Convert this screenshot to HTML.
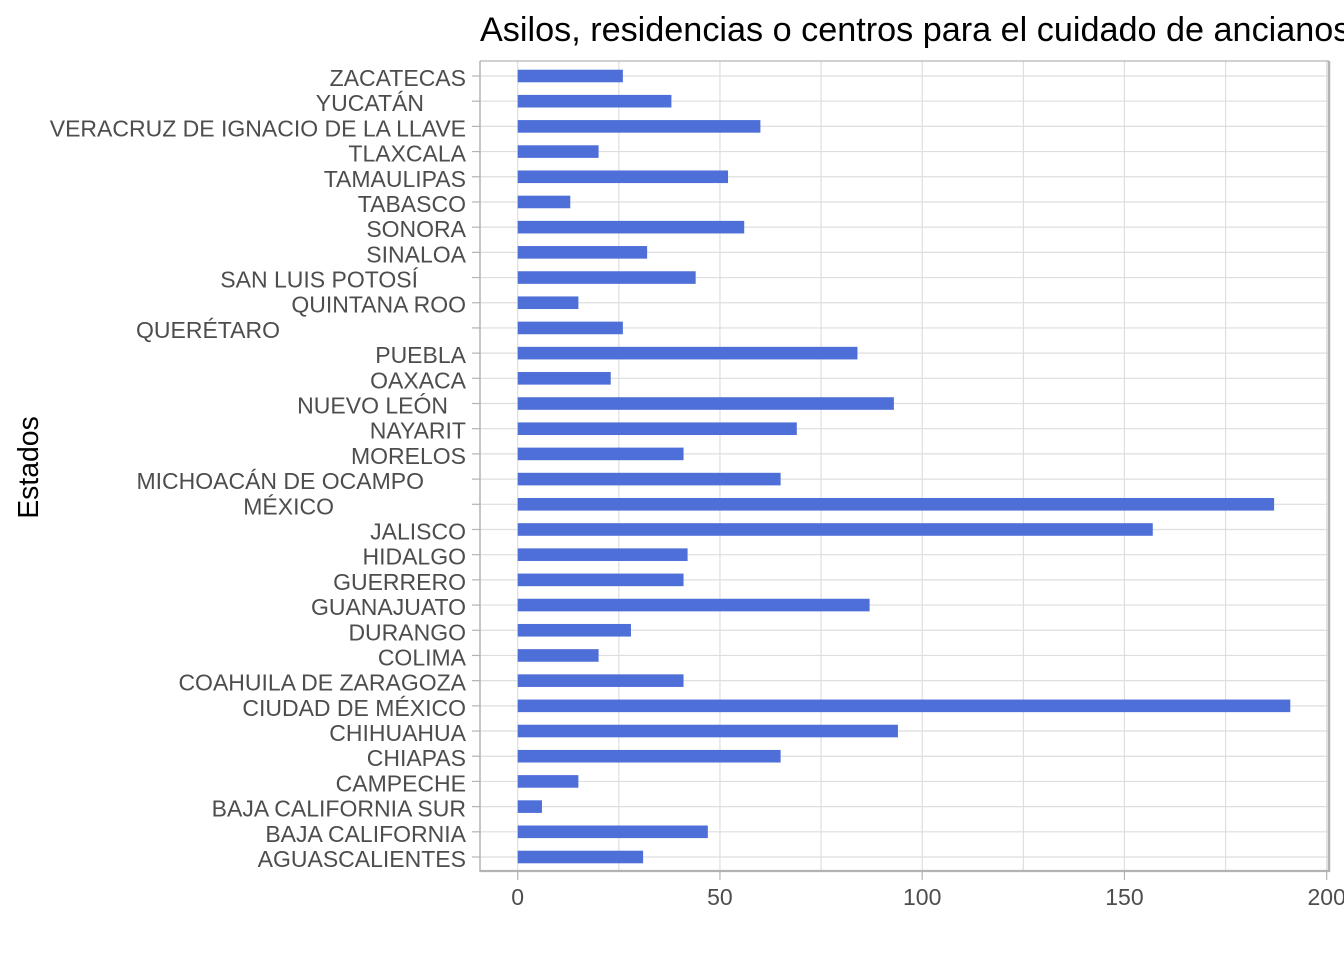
<!DOCTYPE html>
<html lang="es">
<head>
<meta charset="utf-8">
<title>Asilos, residencias o centros para el cuidado de ancianos</title>
<style>
html,body{margin:0;padding:0;background:#fff;width:1344px;height:960px;overflow:hidden}
svg{display:block;font-family:"Liberation Sans",Arial,sans-serif}
</style>
</head>
<body>
<svg id="chart" width="1344" height="960" viewBox="0 0 1344 960" xmlns="http://www.w3.org/2000/svg">
<text x="480" y="41" font-size="34.2" fill="#000">Asilos, residencias o centros para el cuidado de ancianos</text>
<text transform="translate(38,467.5) rotate(-90)" text-anchor="middle" font-size="28.4" fill="#000">Estados</text>
</svg>
<script>
const categories = ["AGUASCALIENTES","BAJA CALIFORNIA","BAJA CALIFORNIA SUR","CAMPECHE","CHIAPAS","CHIHUAHUA","CIUDAD DE MÉXICO","COAHUILA DE ZARAGOZA","COLIMA","DURANGO","GUANAJUATO","GUERRERO","HIDALGO","JALISCO","MÉXICO","MICHOACÁN DE OCAMPO","MORELOS","NAYARIT","NUEVO LEÓN","OAXACA","PUEBLA","QUERÉTARO","QUINTANA ROO","SAN LUIS POTOSÍ","SINALOA","SONORA","TABASCO","TAMAULIPAS","TLAXCALA","VERACRUZ DE IGNACIO DE LA LLAVE","YUCATÁN","ZACATECAS"];
const values = [31,47,6,15,65,94,191,41,20,28,87,41,42,157,187,65,41,69,93,23,84,26,15,44,32,56,13,52,20,60,38,26];
const xTickLabels = [0,50,100,150,200];
const xMinorTicks = [25,75,125,175];

const svg = document.getElementById('chart');
const NS = 'http://www.w3.org/2000/svg';
const panel = {left:480, right:1329, top:61, bottom:871};
const xScale = v => 517.7 + v * 4.045;
const yScale = i => 857 - i * (781 / (categories.length - 1));
// Labels with accented letters sit further left in the reference.
const labelShift = {"YUCATÁN":42,"SAN LUIS POTOSÍ":48,"QUERÉTARO":186,"NUEVO LEÓN":18,"MICHOACÁN DE OCAMPO":42,"MÉXICO":132};

function make(tag, attrs, parent){
  const el = document.createElementNS(NS, tag);
  for (const k in attrs) el.setAttribute(k, attrs[k]);
  (parent || svg).appendChild(el);
  return el;
}

const grid = make('g', {});


xMinorTicks.concat(xTickLabels).forEach(t => {
  const line = make('line', {x1:xScale(t), x2:xScale(t), y1:panel.top, y2:panel.bottom, stroke:'#dedede', 'stroke-width':1.2}, grid);
  
  
});
categories.forEach((c, i) => {
  const line = make('line', {x1:panel.left, x2:panel.right, y1:yScale(i), y2:yScale(i), stroke:'#dedede', 'stroke-width':1.2}, grid);
  
  
});

const bars = make('g', {});


values.forEach((v, i) => {
  const bar = make('rect', {x:xScale(0), y:yScale(i) - 6.3, width:xScale(v) - xScale(0), height:12.6, fill:'#4f6fd8'}, bars);
  
  
});

const frame = make('g', {});


make('line', {x1:panel.left, x2:panel.right, y1:panel.top, y2:panel.top, stroke:'#b3b3b3', 'stroke-width':1.2}, frame);
make('line', {x1:panel.left, x2:panel.left, y1:panel.top, y2:panel.bottom + 1, stroke:'#b3b3b3', 'stroke-width':1.5}, frame);
make('line', {x1:panel.right, x2:panel.right, y1:panel.top, y2:panel.bottom + 1, stroke:'#b3b3b3', 'stroke-width':2.5}, frame);
make('line', {x1:panel.left, x2:panel.right + 1, y1:panel.bottom, y2:panel.bottom, stroke:'#b3b3b3', 'stroke-width':2.2}, frame);

const yAxis = make('g', {});


categories.forEach((c, i) => {
  const tick = make('line', {x1:472, x2:panel.left, y1:yScale(i), y2:yScale(i), stroke:'#b3b3b3', 'stroke-width':1.2}, yAxis);
  
  
  const label = make('text', {x:466 - (labelShift[c] || 0), y:yScale(i) + 10, 'text-anchor':'end', 'font-size':23, fill:'#4d4d4d'}, yAxis);
  
  
  label.textContent = c;
});

const xAxis = make('g', {});


xTickLabels.forEach(t => {
  const tick = make('line', {x1:xScale(t), x2:xScale(t), y1:panel.bottom + 1, y2:880, stroke:'#b3b3b3', 'stroke-width':1.2}, xAxis);
  
  
  const label = make('text', {x:xScale(t), y:905, 'text-anchor':'middle', 'font-size':23, fill:'#4d4d4d'}, xAxis);
  
  
  label.textContent = t;
});
</script>
</body>
</html>
